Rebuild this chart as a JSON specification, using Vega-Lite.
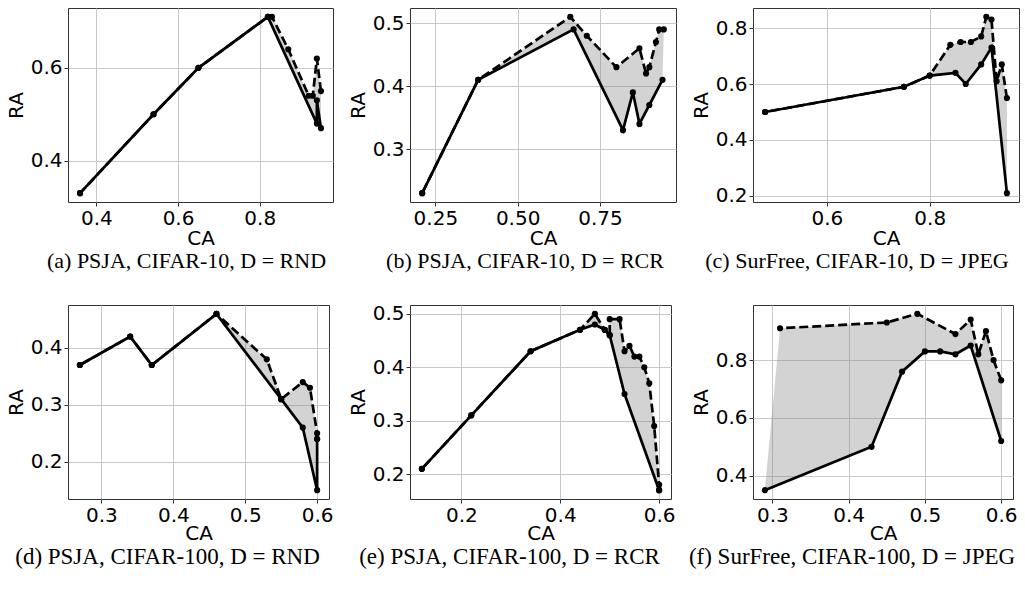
{
  "$schema": "https://vega.github.io/schema/vega-lite/v6.json",
  "padding": {"left": 5, "top": 7, "right": 0, "bottom": 0},
  "columns": 3,
  "bounds": "flush",
  "spacing": {"row": 103, "column": 77},
  "datasets": {
    "pts": [
      {"p": "a", "s": "solid", "o": 1, "CA": 0.36, "RA": 0.33},
      {"p": "a", "s": "solid", "o": 2, "CA": 0.54, "RA": 0.50},
      {"p": "a", "s": "solid", "o": 3, "CA": 0.65, "RA": 0.60},
      {"p": "a", "s": "solid", "o": 4, "CA": 0.82, "RA": 0.71},
      {"p": "a", "s": "solid", "o": 5, "CA": 0.94, "RA": 0.48},
      {"p": "a", "s": "solid", "o": 6, "CA": 0.94, "RA": 0.53},
      {"p": "a", "s": "solid", "o": 7, "CA": 0.95, "RA": 0.47},
      {"p": "a", "s": "dashed", "o": 101, "CA": 0.95, "RA": 0.55},
      {"p": "a", "s": "dashed", "o": 102, "CA": 0.94, "RA": 0.62},
      {"p": "a", "s": "dashed", "o": 103, "CA": 0.93, "RA": 0.54},
      {"p": "a", "s": "dashed", "o": 104, "CA": 0.92, "RA": 0.54},
      {"p": "a", "s": "dashed", "o": 105, "CA": 0.87, "RA": 0.64},
      {"p": "a", "s": "dashed", "o": 106, "CA": 0.83, "RA": 0.71},
      {"p": "a", "s": "dashed", "o": 107, "CA": 0.82, "RA": 0.71},
      {"p": "a", "s": "dashed", "o": 108, "CA": 0.65, "RA": 0.60},
      {"p": "a", "s": "dashed", "o": 109, "CA": 0.54, "RA": 0.50},
      {"p": "a", "s": "dashed", "o": 110, "CA": 0.36, "RA": 0.33},

      {"p": "b", "s": "solid", "o": 1, "CA": 0.21, "RA": 0.23},
      {"p": "b", "s": "solid", "o": 2, "CA": 0.38, "RA": 0.41},
      {"p": "b", "s": "solid", "o": 3, "CA": 0.67, "RA": 0.49},
      {"p": "b", "s": "solid", "o": 4, "CA": 0.82, "RA": 0.33},
      {"p": "b", "s": "solid", "o": 5, "CA": 0.85, "RA": 0.39},
      {"p": "b", "s": "solid", "o": 6, "CA": 0.87, "RA": 0.34},
      {"p": "b", "s": "solid", "o": 7, "CA": 0.90, "RA": 0.37},
      {"p": "b", "s": "solid", "o": 8, "CA": 0.94, "RA": 0.41},
      {"p": "b", "s": "dashed", "o": 101, "CA": 0.944, "RA": 0.49},
      {"p": "b", "s": "dashed", "o": 102, "CA": 0.93, "RA": 0.49},
      {"p": "b", "s": "dashed", "o": 103, "CA": 0.92, "RA": 0.47},
      {"p": "b", "s": "dashed", "o": 104, "CA": 0.90, "RA": 0.43},
      {"p": "b", "s": "dashed", "o": 105, "CA": 0.89, "RA": 0.42},
      {"p": "b", "s": "dashed", "o": 106, "CA": 0.87, "RA": 0.46},
      {"p": "b", "s": "dashed", "o": 107, "CA": 0.80, "RA": 0.43},
      {"p": "b", "s": "dashed", "o": 108, "CA": 0.71, "RA": 0.48},
      {"p": "b", "s": "dashed", "o": 109, "CA": 0.66, "RA": 0.51},
      {"p": "b", "s": "dashed", "o": 110, "CA": 0.38, "RA": 0.41},
      {"p": "b", "s": "dashed", "o": 111, "CA": 0.21, "RA": 0.23},

      {"p": "c", "s": "solid", "o": 1, "CA": 0.48, "RA": 0.50},
      {"p": "c", "s": "solid", "o": 2, "CA": 0.75, "RA": 0.59},
      {"p": "c", "s": "solid", "o": 3, "CA": 0.80, "RA": 0.63},
      {"p": "c", "s": "solid", "o": 4, "CA": 0.85, "RA": 0.64},
      {"p": "c", "s": "solid", "o": 5, "CA": 0.87, "RA": 0.60},
      {"p": "c", "s": "solid", "o": 6, "CA": 0.90, "RA": 0.67},
      {"p": "c", "s": "solid", "o": 7, "CA": 0.92, "RA": 0.73},
      {"p": "c", "s": "solid", "o": 8, "CA": 0.95, "RA": 0.21},
      {"p": "c", "s": "dashed", "o": 101, "CA": 0.95, "RA": 0.55},
      {"p": "c", "s": "dashed", "o": 102, "CA": 0.94, "RA": 0.67},
      {"p": "c", "s": "dashed", "o": 103, "CA": 0.93, "RA": 0.61},
      {"p": "c", "s": "dashed", "o": 104, "CA": 0.92, "RA": 0.83},
      {"p": "c", "s": "dashed", "o": 105, "CA": 0.91, "RA": 0.84},
      {"p": "c", "s": "dashed", "o": 106, "CA": 0.90, "RA": 0.77},
      {"p": "c", "s": "dashed", "o": 107, "CA": 0.88, "RA": 0.75},
      {"p": "c", "s": "dashed", "o": 108, "CA": 0.86, "RA": 0.75},
      {"p": "c", "s": "dashed", "o": 109, "CA": 0.84, "RA": 0.74},
      {"p": "c", "s": "dashed", "o": 110, "CA": 0.80, "RA": 0.63},
      {"p": "c", "s": "dashed", "o": 111, "CA": 0.75, "RA": 0.59},
      {"p": "c", "s": "dashed", "o": 112, "CA": 0.48, "RA": 0.50},

      {"p": "d", "s": "solid", "o": 1, "CA": 0.27, "RA": 0.37},
      {"p": "d", "s": "solid", "o": 2, "CA": 0.34, "RA": 0.42},
      {"p": "d", "s": "solid", "o": 3, "CA": 0.37, "RA": 0.37},
      {"p": "d", "s": "solid", "o": 4, "CA": 0.46, "RA": 0.46},
      {"p": "d", "s": "solid", "o": 5, "CA": 0.55, "RA": 0.31},
      {"p": "d", "s": "solid", "o": 6, "CA": 0.58, "RA": 0.26},
      {"p": "d", "s": "solid", "o": 7, "CA": 0.60, "RA": 0.15},
      {"p": "d", "s": "solid", "o": 8, "CA": 0.60, "RA": 0.24},
      {"p": "d", "s": "dashed", "o": 101, "CA": 0.60, "RA": 0.24},
      {"p": "d", "s": "dashed", "o": 102, "CA": 0.60, "RA": 0.25},
      {"p": "d", "s": "dashed", "o": 103, "CA": 0.59, "RA": 0.33},
      {"p": "d", "s": "dashed", "o": 104, "CA": 0.58, "RA": 0.34},
      {"p": "d", "s": "dashed", "o": 105, "CA": 0.55, "RA": 0.31},
      {"p": "d", "s": "dashed", "o": 106, "CA": 0.53, "RA": 0.38},
      {"p": "d", "s": "dashed", "o": 107, "CA": 0.46, "RA": 0.46},
      {"p": "d", "s": "dashed", "o": 108, "CA": 0.37, "RA": 0.37},
      {"p": "d", "s": "dashed", "o": 109, "CA": 0.34, "RA": 0.42},
      {"p": "d", "s": "dashed", "o": 110, "CA": 0.27, "RA": 0.37},

      {"p": "e", "s": "solid", "o": 1, "CA": 0.12, "RA": 0.21},
      {"p": "e", "s": "solid", "o": 2, "CA": 0.22, "RA": 0.31},
      {"p": "e", "s": "solid", "o": 3, "CA": 0.34, "RA": 0.43},
      {"p": "e", "s": "solid", "o": 4, "CA": 0.44, "RA": 0.47},
      {"p": "e", "s": "solid", "o": 5, "CA": 0.47, "RA": 0.48},
      {"p": "e", "s": "solid", "o": 6, "CA": 0.49, "RA": 0.47},
      {"p": "e", "s": "solid", "o": 7, "CA": 0.50, "RA": 0.46},
      {"p": "e", "s": "solid", "o": 8, "CA": 0.53, "RA": 0.35},
      {"p": "e", "s": "solid", "o": 9, "CA": 0.60, "RA": 0.17},
      {"p": "e", "s": "dashed", "o": 101, "CA": 0.60, "RA": 0.17},
      {"p": "e", "s": "dashed", "o": 102, "CA": 0.60, "RA": 0.18},
      {"p": "e", "s": "dashed", "o": 103, "CA": 0.59, "RA": 0.29},
      {"p": "e", "s": "dashed", "o": 104, "CA": 0.58, "RA": 0.37},
      {"p": "e", "s": "dashed", "o": 105, "CA": 0.57, "RA": 0.40},
      {"p": "e", "s": "dashed", "o": 106, "CA": 0.56, "RA": 0.42},
      {"p": "e", "s": "dashed", "o": 107, "CA": 0.55, "RA": 0.42},
      {"p": "e", "s": "dashed", "o": 108, "CA": 0.54, "RA": 0.44},
      {"p": "e", "s": "dashed", "o": 109, "CA": 0.53, "RA": 0.43},
      {"p": "e", "s": "dashed", "o": 110, "CA": 0.52, "RA": 0.49},
      {"p": "e", "s": "dashed", "o": 111, "CA": 0.50, "RA": 0.49},
      {"p": "e", "s": "dashed", "o": 112, "CA": 0.50, "RA": 0.46},
      {"p": "e", "s": "dashed", "o": 113, "CA": 0.49, "RA": 0.47},
      {"p": "e", "s": "dashed", "o": 114, "CA": 0.47, "RA": 0.50},
      {"p": "e", "s": "dashed", "o": 115, "CA": 0.44, "RA": 0.47},
      {"p": "e", "s": "dashed", "o": 116, "CA": 0.34, "RA": 0.43},
      {"p": "e", "s": "dashed", "o": 117, "CA": 0.22, "RA": 0.31},
      {"p": "e", "s": "dashed", "o": 118, "CA": 0.12, "RA": 0.21},

      {"p": "f", "s": "solid", "o": 1, "CA": 0.29, "RA": 0.35},
      {"p": "f", "s": "solid", "o": 2, "CA": 0.43, "RA": 0.50},
      {"p": "f", "s": "solid", "o": 3, "CA": 0.47, "RA": 0.76},
      {"p": "f", "s": "solid", "o": 4, "CA": 0.50, "RA": 0.83},
      {"p": "f", "s": "solid", "o": 5, "CA": 0.52, "RA": 0.83},
      {"p": "f", "s": "solid", "o": 6, "CA": 0.54, "RA": 0.82},
      {"p": "f", "s": "solid", "o": 7, "CA": 0.56, "RA": 0.85},
      {"p": "f", "s": "solid", "o": 8, "CA": 0.60, "RA": 0.52},
      {"p": "f", "s": "dashed", "o": 101, "CA": 0.60, "RA": 0.73},
      {"p": "f", "s": "dashed", "o": 102, "CA": 0.59, "RA": 0.80},
      {"p": "f", "s": "dashed", "o": 103, "CA": 0.58, "RA": 0.90},
      {"p": "f", "s": "dashed", "o": 104, "CA": 0.57, "RA": 0.82},
      {"p": "f", "s": "dashed", "o": 105, "CA": 0.56, "RA": 0.94},
      {"p": "f", "s": "dashed", "o": 106, "CA": 0.54, "RA": 0.89},
      {"p": "f", "s": "dashed", "o": 107, "CA": 0.49, "RA": 0.96},
      {"p": "f", "s": "dashed", "o": 108, "CA": 0.45, "RA": 0.93},
      {"p": "f", "s": "dashed", "o": 109, "CA": 0.31, "RA": 0.91}
    ]
  },
  "concat": [
    {
      "width": 265, "height": 194,
      "title": {"text": "(a) PSJA, CIFAR-10, D = RND", "dx": -14, "offset": 3, "fontSize": 22},
      "data": {"name": "pts"},
      "transform": [{"filter": "datum.p == 'a'"}],
      "encoding": {
        "x": {"field": "CA", "type": "quantitative", "scale": {"domain": [0.3305, 0.9795], "nice": false, "zero": false}, "axis": {"values": [0.4, 0.6, 0.8], "format": ".1f", "title": "CA", "titlePadding": 0}},
        "y": {"field": "RA", "type": "quantitative", "scale": {"domain": [0.311, 0.729], "nice": false, "zero": false}, "axis": {"values": [0.4, 0.6], "format": ".1f", "title": "RA"}},
        "order": {"field": "o"}
      },
      "layer": [
        {"mark": {"type": "line", "fill": "#808080", "fillOpacity": 0.35, "strokeOpacity": 0}},
        {"transform": [{"filter": "datum.s == 'dashed'"}], "mark": {"type": "line", "color": "black", "strokeWidth": 2.7, "strokeDash": [9, 4]}},
        {"transform": [{"filter": "datum.s == 'solid'"}], "mark": {"type": "line", "color": "black", "strokeWidth": 2.7}},
        {"mark": {"type": "point", "filled": true, "color": "black", "size": 38, "opacity": 1}}
      ]
    },
    {
      "width": 266, "height": 194,
      "title": {"text": "(b) PSJA, CIFAR-10, D = RCR", "dx": -18, "offset": 3, "fontSize": 22},
      "data": {"name": "pts"},
      "transform": [{"filter": "datum.p == 'b'"}],
      "encoding": {
        "x": {"field": "CA", "type": "quantitative", "scale": {"domain": [0.173, 0.981], "nice": false, "zero": false}, "axis": {"values": [0.25, 0.5, 0.75], "format": ".2f", "title": "CA", "titlePadding": 0}},
        "y": {"field": "RA", "type": "quantitative", "scale": {"domain": [0.216, 0.524], "nice": false, "zero": false}, "axis": {"values": [0.3, 0.4, 0.5], "format": ".1f", "title": "RA"}},
        "order": {"field": "o"}
      },
      "layer": [
        {"mark": {"type": "line", "fill": "#808080", "fillOpacity": 0.35, "strokeOpacity": 0}},
        {"transform": [{"filter": "datum.s == 'dashed'"}], "mark": {"type": "line", "color": "black", "strokeWidth": 2.7, "strokeDash": [9, 4]}},
        {"transform": [{"filter": "datum.s == 'solid'"}], "mark": {"type": "line", "color": "black", "strokeWidth": 2.7}},
        {"mark": {"type": "point", "filled": true, "color": "black", "size": 38, "opacity": 1}}
      ]
    },
    {
      "width": 266, "height": 194,
      "title": {"text": "(c) SurFree, CIFAR-10, D = JPEG", "dx": -29, "offset": 3, "fontSize": 22},
      "data": {"name": "pts"},
      "transform": [{"filter": "datum.p == 'c'"}],
      "encoding": {
        "x": {"field": "CA", "type": "quantitative", "scale": {"domain": [0.4565, 0.9735], "nice": false, "zero": false}, "axis": {"values": [0.6, 0.8], "format": ".1f", "title": "CA", "titlePadding": 0}},
        "y": {"field": "RA", "type": "quantitative", "scale": {"domain": [0.1785, 0.8715], "nice": false, "zero": false}, "axis": {"values": [0.2, 0.4, 0.6, 0.8], "format": ".1f", "title": "RA"}},
        "order": {"field": "o"}
      },
      "layer": [
        {"mark": {"type": "line", "fill": "#808080", "fillOpacity": 0.35, "strokeOpacity": 0}},
        {"transform": [{"filter": "datum.s == 'dashed'"}], "mark": {"type": "line", "color": "black", "strokeWidth": 2.7, "strokeDash": [9, 4]}},
        {"transform": [{"filter": "datum.s == 'solid'"}], "mark": {"type": "line", "color": "black", "strokeWidth": 2.7}},
        {"mark": {"type": "point", "filled": true, "color": "black", "size": 38, "opacity": 1}}
      ]
    },
    {
      "width": 261, "height": 194,
      "title": {"text": "(d) PSJA, CIFAR-100, D = RND", "dx": -31, "offset": 3, "fontSize": 23},
      "data": {"name": "pts"},
      "transform": [{"filter": "datum.p == 'd'"}],
      "encoding": {
        "x": {"field": "CA", "type": "quantitative", "scale": {"domain": [0.2535, 0.6165], "nice": false, "zero": false}, "axis": {"values": [0.3, 0.4, 0.5, 0.6], "format": ".1f", "title": "CA", "titlePadding": -2}},
        "y": {"field": "RA", "type": "quantitative", "scale": {"domain": [0.1345, 0.4755], "nice": false, "zero": false}, "axis": {"values": [0.2, 0.3, 0.4], "format": ".1f", "title": "RA"}},
        "order": {"field": "o"}
      },
      "layer": [
        {"mark": {"type": "line", "fill": "#808080", "fillOpacity": 0.35, "strokeOpacity": 0}},
        {"transform": [{"filter": "datum.s == 'dashed'"}], "mark": {"type": "line", "color": "black", "strokeWidth": 2.7, "strokeDash": [9, 4]}},
        {"transform": [{"filter": "datum.s == 'solid'"}], "mark": {"type": "line", "color": "black", "strokeWidth": 2.7}},
        {"mark": {"type": "point", "filled": true, "color": "black", "size": 38, "opacity": 1}}
      ]
    },
    {
      "width": 261, "height": 194,
      "title": {"text": "(e) PSJA, CIFAR-100, D = RCR", "dx": -31, "offset": 3, "fontSize": 23},
      "data": {"name": "pts"},
      "transform": [{"filter": "datum.p == 'e'"}],
      "encoding": {
        "x": {"field": "CA", "type": "quantitative", "scale": {"domain": [0.096, 0.624], "nice": false, "zero": false}, "axis": {"values": [0.2, 0.4, 0.6], "format": ".1f", "title": "CA", "titlePadding": -2}},
        "y": {"field": "RA", "type": "quantitative", "scale": {"domain": [0.1535, 0.5165], "nice": false, "zero": false}, "axis": {"values": [0.2, 0.3, 0.4, 0.5], "format": ".1f", "title": "RA"}},
        "order": {"field": "o"}
      },
      "layer": [
        {"mark": {"type": "line", "fill": "#808080", "fillOpacity": 0.35, "strokeOpacity": 0}},
        {"transform": [{"filter": "datum.s == 'dashed'"}], "mark": {"type": "line", "color": "black", "strokeWidth": 2.7, "strokeDash": [9, 4]}},
        {"transform": [{"filter": "datum.s == 'solid'"}], "mark": {"type": "line", "color": "black", "strokeWidth": 2.7}},
        {"mark": {"type": "point", "filled": true, "color": "black", "size": 38, "opacity": 1}}
      ]
    },
    {
      "width": 260, "height": 194,
      "title": {"text": "(f) SurFree, CIFAR-100, D = JPEG", "dx": -31, "offset": 3, "fontSize": 23},
      "data": {"name": "pts"},
      "transform": [{"filter": "datum.p == 'f'"}],
      "encoding": {
        "x": {"field": "CA", "type": "quantitative", "scale": {"domain": [0.2745, 0.6155], "nice": false, "zero": false}, "axis": {"values": [0.3, 0.4, 0.5, 0.6], "format": ".1f", "title": "CA", "titlePadding": -2}},
        "y": {"field": "RA", "type": "quantitative", "scale": {"domain": [0.3195, 0.9905], "nice": false, "zero": false}, "axis": {"values": [0.4, 0.6, 0.8], "format": ".1f", "title": "RA"}},
        "order": {"field": "o"}
      },
      "layer": [
        {"mark": {"type": "line", "fill": "#808080", "fillOpacity": 0.35, "strokeOpacity": 0}},
        {"transform": [{"filter": "datum.s == 'dashed'"}], "mark": {"type": "line", "color": "black", "strokeWidth": 2.7, "strokeDash": [9, 4]}},
        {"transform": [{"filter": "datum.s == 'solid'"}], "mark": {"type": "line", "color": "black", "strokeWidth": 2.7}},
        {"mark": {"type": "point", "filled": true, "color": "black", "size": 38, "opacity": 1}}
      ]
    }
  ],
  "config": {
    "background": "white",
    "view": {"stroke": "#333333", "strokeWidth": 1},
    "axis": {
      "grid": true, "gridColor": "#c8c8c8", "gridWidth": 1,
      "domain": false,
      "ticks": true, "tickColor": "#333333", "tickSize": 4, "tickWidth": 1,
      "labelFont": "DejaVu Sans", "labelFontSize": 20, "labelColor": "#000000", "labelPadding": 2,
      "labelFlush": false, "labelOverlap": false, "labelBound": false,
      "titleFont": "DejaVu Sans", "titleFontSize": 20, "titleFontWeight": "normal", "titleColor": "#000000", "titlePadding": 4
    },
    "title": {"font": "Liberation Serif", "fontSize": 21.5, "fontWeight": "normal", "color": "#000000", "orient": "bottom", "anchor": "middle"}
  }
}
